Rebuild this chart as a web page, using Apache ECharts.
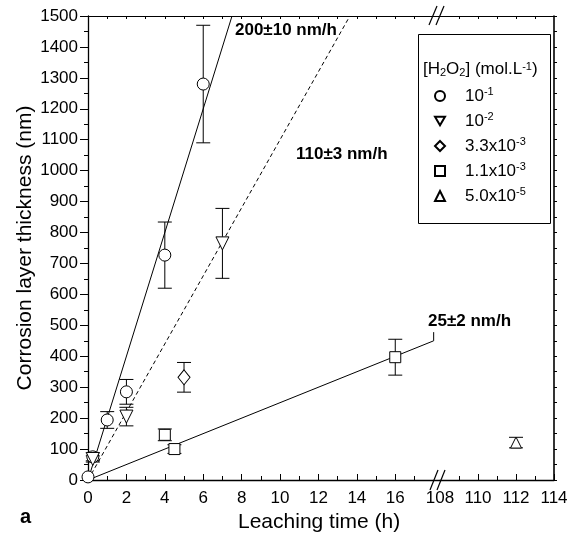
<!DOCTYPE html>
<html>
<head>
<meta charset="utf-8">
<script src="https://cdn.jsdelivr.net/npm/echarts@6/dist/echarts.min.js"></script>
<style>
  html, body { margin: 0; padding: 0; background: #fff; }
  #chart { width: 583px; height: 548px; }
</style>
</head>
<body>
<div id="chart"></div>
<script>
// Corrosion layer thickness (nm) vs leaching time (h), per H2O2 concentration
const seriesKeys = ['c1', 'c2', 'c3', 'c4', 'c5'];
const concLabels = ['10{s|-1}', '10{s|-2}', '3.3x10{s|-3}', '1.1x10{s|-3}', '5.0x10{s|-5}'];

const timeC1 = [0, 0.25, 1, 2, 4, 6];
const thickC1 = [10, 75, 194, 285, 727, 1280];
const errC1 = [0, 13, 27, 40, 107, 190];

const timeC2 = [0.25, 2, 7];
const thickC2 = [68, 205, 765];
const errC2 = [10, 30, 113];

const timeC3 = [5];
const thickC3 = [332];
const errC3 = [48];

const timeC4 = [4, 4.5, 16];
const thickC4 = [146, 100, 397];
const errC4 = [19, 14, 58];

const timeC5 = [112];
const thickC5 = [121];
const errC5 = [17];

// fitted growth rates (nm/h) and their labels
const rates = [200, 110, 25];
const rateLabels = ['200\u00b110 nm/h', '110\u00b13 nm/h', '25\u00b12 nm/h'];
const rateDash = ['solid', [4, 3], 'solid'];

// x axis: two segments joined by a break
const leftRange = [0, 18.33];
const rightRange = [108, 114];
const leftMajor = [0, 2, 4, 6, 8, 10, 12, 14, 16];
const leftMinor = [1, 3, 5, 7, 9, 11, 13, 15, 17];
const rightMajor = [110, 112, 114];
const rightLabels = [108, 110, 112, 114];
const rightMinor = [109, 111, 113];
const yRange = [0, 1500];

const FONT = '"Liberation Sans", Arial, Helvetica, sans-serif';
const groups = [
  { t: timeC1, y: thickC1, e: errC1, symbol: 'circle', size: 12 },
  { t: timeC2, y: thickC2, e: errC2, symbol: 'path://M0,0L12,0L6,10.4Z', size: 13 },
  { t: timeC3, y: thickC3, e: errC3, symbol: 'diamond', size: [12, 15] },
  { t: timeC4, y: thickC4, e: errC4, symbol: 'rect', size: 11 },
  { t: timeC5, y: thickC5, e: errC5, symbol: 'triangle', size: 11 }
];

const chart = echarts.init(document.getElementById('chart'), null, { renderer: 'canvas' });

function errorBarRender(params, api) {
  const x = api.value(0);
  const lo = api.value(1);
  const hi = api.value(2);
  if (hi === lo) return null;
  const p1 = api.coord([x, hi]);
  const p2 = api.coord([x, lo]);
  const w = 7;
  const st = { stroke: '#000', lineWidth: 1 };
  return {
    type: 'group',
    children: [
      { type: 'line', shape: { x1: p1[0], y1: p1[1], x2: p2[0], y2: p2[1] }, style: st },
      { type: 'line', shape: { x1: p1[0] - w, y1: p1[1], x2: p1[0] + w, y2: p1[1] }, style: st },
      { type: 'line', shape: { x1: p2[0] - w, y1: p2[1], x2: p2[0] + w, y2: p2[1] }, style: st }
    ]
  };
}

const series = [];

// regression lines from the origin
rates.forEach((r, i) => {
  const tEnd = Math.min(yRange[1] / r, 18);
  series.push({
    type: 'line', name: 'fit' + i, xAxisIndex: 0, yAxisIndex: 0,
    data: [[0, 0], [tEnd, r * tEnd]],
    symbol: 'none', silent: true, z: 1,
    lineStyle: { color: '#000', width: 1, type: rateDash[i] }
  });
});
// short leader from the end of the slowest fit up to its label
series.push({
  type: 'line', name: 'leader', xAxisIndex: 0, yAxisIndex: 0,
  data: [[18, rates[2] * 18], [18, rates[2] * 18 + 28]],
  symbol: 'none', silent: true, z: 1,
  lineStyle: { color: '#000', width: 1 }
});

groups.forEach((g, gi) => {
  [0, 1].forEach(seg => {
    const idx = g.t.map((t, k) => k).filter(k => (seg === 0 ? g.t[k] < 100 : g.t[k] >= 100));
    if (!idx.length) return;
    const xAxisIndex = seg === 0 ? 0 : 3;
    const yAxisIndex = seg;
    series.push({
      type: 'custom', name: 'err-' + seriesKeys[gi], xAxisIndex, yAxisIndex,
      renderItem: errorBarRender, z: 2, silent: true,
      encode: { x: 0, y: [1, 2] },
      data: idx.map(k => [g.t[k], g.y[k] - g.e[k], g.y[k] + g.e[k]])
    });
    series.push({
      type: 'scatter', name: seriesKeys[gi], xAxisIndex, yAxisIndex,
      symbol: g.symbol, symbolSize: g.size, z: 3,
      itemStyle: { color: '#fff', borderColor: '#000', borderWidth: 1, opacity: 1 },
      emphasis: { disabled: true },
      data: idx.map(k => [g.t[k], g.y[k]])
    });
  });
});

const axisLineStyle = { color: '#000', width: 1.3 };
const labelStyle = { color: '#000', fontSize: 17, fontFamily: FONT };

const option = {
  backgroundColor: '#fff',
  animation: false,
  grid: [
    { left: 88, top: 16, width: 352, height: 464 },
    { left: 440, top: 16, width: 114, height: 464 }
  ],
  xAxis: [
    { // 0: left segment, labels + major ticks
      type: 'value', gridIndex: 0, position: 'bottom', min: leftRange[0], max: leftRange[1],
      axisLine: { show: true, lineStyle: axisLineStyle },
      axisTick: { show: true, inside: true, length: 6, customValues: leftMajor, lineStyle: { color: '#000' } },
      axisLabel: { show: true, margin: 10, customValues: leftMajor, formatter: v => String(v), ...labelStyle },
      splitLine: { show: false }
    },
    { // 1: left segment, minor ticks
      type: 'value', gridIndex: 0, position: 'bottom', min: leftRange[0], max: leftRange[1],
      axisLine: { show: false },
      axisTick: { show: true, inside: true, length: 4, customValues: leftMinor, lineStyle: { color: '#000' } },
      axisLabel: { show: false }, splitLine: { show: false }
    },
    { // 2: left segment, top frame
      type: 'value', gridIndex: 0, position: 'top', min: leftRange[0], max: leftRange[1],
      axisLine: { show: true, lineStyle: { color: '#000', width: 1 } },
      axisTick: { show: true, inside: true, length: 3, customValues: leftMajor.concat(leftMinor).filter(v => v > 0), lineStyle: { color: '#000' } },
      axisLabel: { show: false }, splitLine: { show: false }
    },
    { // 3: right segment, labels + major ticks
      type: 'value', gridIndex: 1, position: 'bottom', min: rightRange[0], max: rightRange[1],
      axisLine: { show: true, lineStyle: axisLineStyle },
      axisTick: { show: true, inside: true, length: 6, customValues: rightMajor, lineStyle: { color: '#000' } },
      axisLabel: { show: true, margin: 10, customValues: rightLabels, formatter: v => String(v), ...labelStyle },
      splitLine: { show: false }
    },
    { // 4: right segment, minor ticks
      type: 'value', gridIndex: 1, position: 'bottom', min: rightRange[0], max: rightRange[1],
      axisLine: { show: false },
      axisTick: { show: true, inside: true, length: 4, customValues: rightMinor, lineStyle: { color: '#000' } },
      axisLabel: { show: false }, splitLine: { show: false }
    },
    { // 5: right segment, top frame
      type: 'value', gridIndex: 1, position: 'top', min: rightRange[0], max: rightRange[1],
      axisLine: { show: true, lineStyle: { color: '#000', width: 1 } },
      axisTick: { show: true, inside: true, length: 3, customValues: rightMinor.concat([110, 112]), lineStyle: { color: '#000' } },
      axisLabel: { show: false }, splitLine: { show: false }
    }
  ],
  yAxis: [
    {
      type: 'value', gridIndex: 0, position: 'left', min: yRange[0], max: yRange[1], interval: 100,
      name: 'Corrosion layer thickness (nm)', nameLocation: 'middle', nameGap: 52, nameMoveOverlap: false,
      nameTextStyle: { color: '#000', fontSize: 21, fontFamily: FONT },
      axisLine: { show: true, lineStyle: axisLineStyle },
      axisTick: { show: true, inside: false, length: 8, lineStyle: { color: '#000' } },
      minorTick: { show: true, splitNumber: 2, length: 4, lineStyle: { color: '#000' } },
      axisLabel: { show: true, margin: 10, formatter: v => String(v), ...labelStyle },
      splitLine: { show: false }, minorSplitLine: { show: false }
    },
    {
      type: 'value', gridIndex: 1, position: 'right', min: yRange[0], max: yRange[1], interval: 50,
      axisLine: { show: true, lineStyle: { color: '#000', width: 1.6 } },
      axisTick: { show: true, inside: false, length: 3, lineStyle: { color: '#000' } },
      axisLabel: { show: false }, splitLine: { show: false }
    }
  ],
  legend: {
    orient: 'vertical', left: 434, top: 86, padding: 0, itemGap: 5,
    itemWidth: 10, itemHeight: 10, selectedMode: false,
    data: seriesKeys,
    formatter: name => concLabels[seriesKeys.indexOf(name)],
    itemStyle: { opacity: 1 },
    textStyle: {
      color: '#000', fontSize: 17, fontFamily: FONT, lineHeight: 20, padding: [0, 0, 0, 15],
      rich: { s: { fontSize: 11, fontFamily: FONT, verticalAlign: 'top', lineHeight: 11, color: '#000' } }
    }
  },
  graphic: [
    { type: 'rect', shape: { x: 418.5, y: 34.5, width: 132, height: 189 }, style: { fill: 'none', stroke: '#000', lineWidth: 1 }, z: 10 },
    {
      type: 'text', left: 423, top: 61, z: 10,
      style: {
        text: '[H{b|2}O{b|2}] (mol.L{t|-1})',
        font: '17px ' + FONT, fill: '#000',
        rich: {
          b: { fontSize: 11, fontFamily: FONT, verticalAlign: 'bottom', lineHeight: 11, fill: '#000' },
          t: { fontSize: 11, fontFamily: FONT, verticalAlign: 'top', lineHeight: 11, fill: '#000' }
        }
      }
    },
    // rate labels
    { type: 'text', left: 235, top: 22, z: 10, style: { text: rateLabels[0], font: 'bold 17px ' + FONT, fill: '#000' } },
    { type: 'text', left: 296, top: 146, z: 10, style: { text: rateLabels[1], font: 'bold 17px ' + FONT, fill: '#000' } },
    { type: 'text', left: 428, top: 313, z: 10, style: { text: rateLabels[2], font: 'bold 17px ' + FONT, fill: '#000' } },
    // axis title and panel letter
    { type: 'text', left: 238, top: 512, z: 10, style: { text: 'Leaching time (h)', font: '21px ' + FONT, fill: '#000' } },
    { type: 'text', left: 20, top: 507, z: 10, style: { text: 'a', font: 'bold 20px ' + FONT, fill: '#000' } },
    // axis break marks
    { type: 'line', shape: { x1: 430, y1: 490, x2: 438, y2: 470 }, style: { stroke: '#000', lineWidth: 1.2 }, z: 10 },
    { type: 'line', shape: { x1: 437, y1: 490, x2: 445, y2: 470 }, style: { stroke: '#000', lineWidth: 1.2 }, z: 10 },
    { type: 'line', shape: { x1: 429, y1: 25, x2: 437, y2: 6 }, style: { stroke: '#000', lineWidth: 1.2 }, z: 10 },
    { type: 'line', shape: { x1: 436, y1: 25, x2: 444, y2: 6 }, style: { stroke: '#000', lineWidth: 1.2 }, z: 10 }
  ],
  series
};

chart.setOption(option);
</script>
</body>
</html>
